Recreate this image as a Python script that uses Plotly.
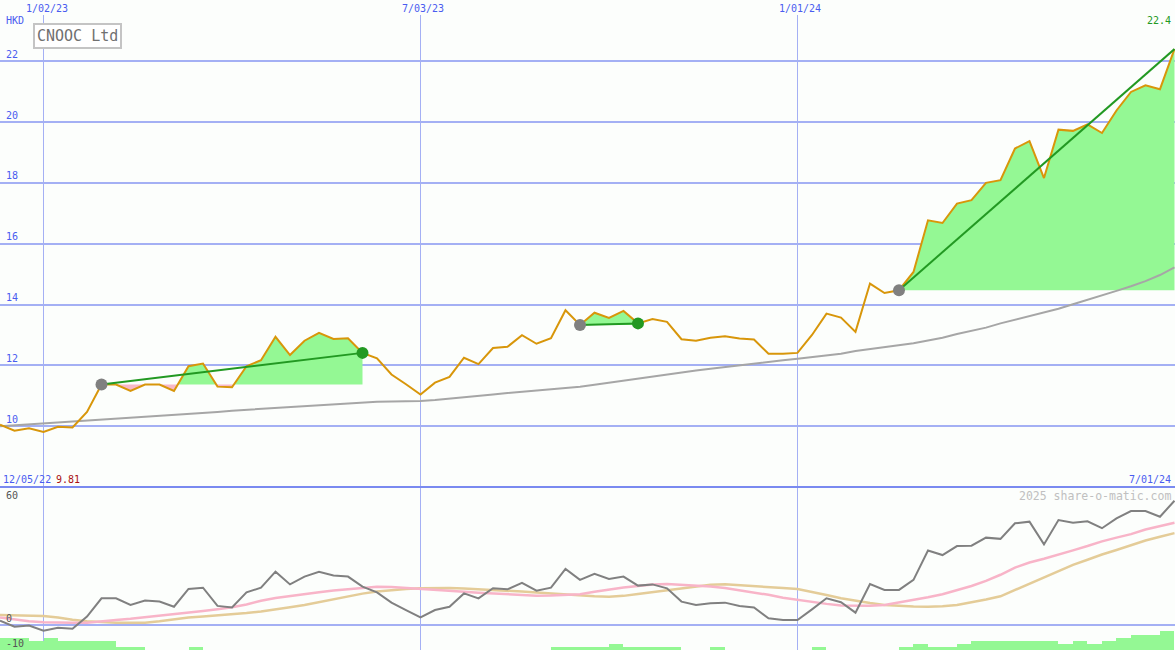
import pandas as pd
import plotly.graph_objects as go

# ---------------- data ----------------
start_date = "2022-12-12"
n_weeks = 82
dates = pd.date_range(start_date, periods=n_weeks, freq="7D")

price = [10.05, 9.85, 9.93, 9.81, 9.98, 9.96, 10.47, 11.37, 11.37, 11.16,
         11.37, 11.37, 11.16, 11.97, 12.06, 11.30, 11.28, 11.97, 12.17, 12.94,
         12.34, 12.81, 13.07, 12.87, 12.89, 12.41, 12.23, 11.70, 11.38, 11.04,
         11.43, 11.62, 12.25, 12.04, 12.57, 12.61, 12.99, 12.71, 12.89, 13.81,
         13.33, 13.73, 13.56, 13.79, 13.38, 13.52, 13.43, 12.86, 12.81, 12.91,
         12.96, 12.88, 12.85, 12.38, 12.38, 12.41, 13.00, 13.70, 13.57, 13.10,
         14.69, 14.38, 14.47, 15.07, 16.77, 16.68, 17.32, 17.43, 18.00, 18.09,
         19.13, 19.37, 18.16, 19.75, 19.71, 19.92, 19.64, 20.38, 20.99, 21.21,
         21.08, 22.40]

moving_avg = [10.00, 10.03, 10.06, 10.10, 10.13, 10.16, 10.19, 10.22, 10.25, 10.28,
              10.32, 10.35, 10.38, 10.41, 10.44, 10.47, 10.51, 10.54, 10.57, 10.60,
              10.63, 10.66, 10.70, 10.73, 10.76, 10.79, 10.80, 10.81, 10.81, 10.83,
              10.86, 10.90, 10.94, 10.99, 11.04, 11.09, 11.13, 11.17, 11.21, 11.25,
              11.30, 11.36, 11.43, 11.50, 11.56, 11.63, 11.70, 11.76, 11.83, 11.89,
              11.95, 12.01, 12.06, 12.12, 12.17, 12.22, 12.27, 12.32, 12.38, 12.47,
              12.53, 12.59, 12.66, 12.73, 12.82, 12.91, 13.03, 13.13, 13.24, 13.38,
              13.50, 13.62, 13.73, 13.86, 14.01, 14.15, 14.30, 14.45, 14.60, 14.77,
              14.97, 15.22]

osc_main = [2.1, -0.8, -0.3, -2.8, -1.3, -1.8, 4.1, 13.0, 13.0, 9.8,
            11.9, 11.4, 8.9, 17.6, 18.2, 9.3, 8.5, 15.9, 18.2, 26.0,
            19.8, 23.6, 26.0, 24.1, 23.6, 18.7, 15.9, 10.9, 7.3, 3.7,
            7.3, 8.9, 15.4, 13.0, 17.9, 17.4, 20.6, 16.7, 18.2, 27.3,
            22.0, 24.9, 22.4, 23.6, 19.2, 19.8, 17.9, 11.4, 9.8, 10.6,
            10.9, 9.3, 8.5, 3.3, 2.4, 2.4, 7.6, 13.0, 11.1, 6.0,
            20.0, 17.1, 17.1, 22.0, 36.3, 34.1, 38.5, 38.7, 42.6, 42.0,
            49.6, 50.4, 39.3, 51.2, 49.9, 50.6, 47.2, 52.0, 55.6, 55.6,
            52.8, 60.6]

osc_fast = [3.7, 2.6, 1.8, 1.3, 1.1, 1.1, 1.1, 1.6, 2.4, 3.0,
            3.7, 4.4, 5.1, 5.9, 6.8, 7.7, 8.6, 10.0, 11.8, 13.2,
            14.2, 15.2, 16.0, 16.8, 17.5, 18.2, 18.6, 18.5, 18.1, 17.6,
            17.2, 16.7, 16.2, 15.7, 15.3, 15.0, 14.6, 14.3, 14.4, 14.6,
            15.0, 16.2, 17.4, 18.3, 19.0, 19.8, 20.0, 19.7, 19.2, 18.8,
            18.0, 17.0, 16.0, 14.7, 13.3, 12.2, 11.2, 10.3, 9.5, 9.3,
            9.4, 9.8, 11.0, 12.2, 13.5, 15.0, 17.0, 19.0, 21.5, 24.5,
            28.0, 30.5, 32.3, 34.5, 36.4, 38.5, 40.8, 42.6, 44.3, 46.6,
            48.3, 49.9]

osc_slow = [4.9, 4.8, 4.6, 4.4, 3.6, 2.5, 1.8, 1.3, 1.1, 1.1,
            1.1, 1.8, 2.8, 3.6, 4.1, 4.6, 5.1, 5.8, 6.6, 7.5,
            8.6, 9.7, 11.1, 12.6, 14.1, 15.3, 16.3, 17.1, 17.6, 17.9,
            18.0, 18.0, 17.8, 17.5, 17.2, 16.8, 16.3, 15.9, 15.4, 15.0,
            14.5, 14.0, 13.8, 14.2, 15.1, 16.0, 17.0, 18.1, 19.0, 19.6,
            19.9, 19.5, 19.0, 18.5, 18.0, 17.5, 16.2, 14.6, 13.0, 11.8,
            10.7, 9.8, 9.3, 9.0, 8.9, 9.1, 9.7, 11.0, 12.4, 14.0,
            17.0, 20.0, 23.0, 26.2, 29.3, 31.8, 34.4, 36.6, 38.8, 41.2,
            43.0, 44.8]

osc_bars = [-6.2, -6.2, -7.8, -6.2, -7.8, -7.8, -7.8, -7.8, -10.6, -10.6,
            None, None, None, -10.6, None, None, None, None, None, None,
            None, None, None, None, None, None, None, None, None, None,
            None, None, None, None, None, None, None, None, -10.6, -10.6,
            -10.6, -10.6, -9.3, -10.6, -10.6, -10.6, -10.6, None, None, -10.6,
            None, None, None, None, None, None, -10.6, None, None, None,
            None, None, -10.6, -9.3, -10.6, -10.6, -9.3, -7.8, -7.8, -7.8,
            -7.8, -7.8, -7.8, -9.3, -7.8, -9.3, -7.8, -6.2, -4.9, -4.9,
            -2.8, None]

trade_entry = [7, 40, 62]
trade_exit = [25, 44, 81]
trade_closed = [True, True, False]

x_tick_dates = ["2023-01-02", "2023-07-03", "2024-01-01"]
x_tick_text = ["1/02/23", "7/03/23", "1/01/24"]
price_ticks = [10, 12, 14, 16, 18, 20, 22]
osc_tick_labels = [60, 0, -10]

title_text = "CNOOC Ltd"
currency = "HKD"
start_label = "12/05/22"
end_label = "7/01/24"
low_label = "9.81"
last_label = "22.4"
credit = "2025 share-o-matic.com"

# ---------------- styling ----------------
W, H = 1175, 650
SEP_PX = 487
TOP_PX = 15
price_range = [8.0, 23.52]
osc_range = [-12.2, 67.3]
osc_label_shift = [6, 6, 2]
BG = "#fcfefc"
GRID = "#a4b0f4"
BLUE_TXT = "#4a5cf0"
FONT = "DejaVu Sans Mono"
GREEN_FILL = "#94f894"
PINK_FILL = "#f8b8c8"
TRADE_GREEN = "#229922"
SMALL = 10

week = pd.Timedelta(days=7)


def idx_to_date(v):
    return dates[0] + week * v


fig = go.Figure()

# trade fills
for a, b in zip(trade_entry, trade_exit):
    base = price[a]
    pts = [(float(a), price[a])]
    for i in range(a, b):
        p0, p1 = price[i], price[i + 1]
        if (p0 - base) * (p1 - base) < 0:
            t = (base - p0) / (p1 - p0)
            pts.append((i + t, base))
        pts.append((float(i + 1), p1))
    xs = [idx_to_date(p[0]) for p in pts]
    up = [max(p[1], base) for p in pts]
    lo = [min(p[1], base) for p in pts]
    for ys, col in ((up, GREEN_FILL), (lo, PINK_FILL)):
        fig.add_trace(go.Scatter(x=xs, y=[base] * len(xs), mode="lines",
                                 line=dict(width=0), hoverinfo="skip",
                                 showlegend=False, xaxis="x", yaxis="y"))
        fig.add_trace(go.Scatter(x=xs, y=ys, mode="lines", line=dict(width=0),
                                 fill="tonexty", fillcolor=col, hoverinfo="skip",
                                 showlegend=False, xaxis="x", yaxis="y"))

# moving average
fig.add_trace(go.Scatter(x=dates, y=moving_avg, mode="lines",
                         line=dict(color="#a6a6a6", width=2), showlegend=False))
# price
fig.add_trace(go.Scatter(x=dates, y=price, mode="lines",
                         line=dict(color="#d8960a", width=2), showlegend=False))

# trade lines & markers
for a, b, closed in zip(trade_entry, trade_exit, trade_closed):
    fig.add_trace(go.Scatter(x=[dates[a], dates[b]], y=[price[a], price[b]],
                             mode="lines", line=dict(color=TRADE_GREEN, width=2),
                             showlegend=False))
    fig.add_trace(go.Scatter(x=[dates[a]], y=[price[a]], mode="markers",
                             marker=dict(color="#808080", size=12, line=dict(width=0)),
                             showlegend=False))
    if closed:
        fig.add_trace(go.Scatter(x=[dates[b]], y=[price[b]], mode="markers",
                                 marker=dict(color=TRADE_GREEN, size=12, line=dict(width=0)),
                                 showlegend=False))

# bottom panel
bar_x = [d + pd.Timedelta(days=3.5) for d in dates]
bar_h = [None if v is None else v - osc_range[0] for v in osc_bars]
fig.add_trace(go.Bar(x=bar_x, y=bar_h, base=osc_range[0], width=7 * 86400000,
                     marker=dict(color=GREEN_FILL, line=dict(width=0)),
                     showlegend=False, xaxis="x2", yaxis="y2"))
fig.add_trace(go.Scatter(x=dates, y=osc_slow, mode="lines",
                         line=dict(color="#e4cc98", width=2.5),
                         showlegend=False, xaxis="x2", yaxis="y2"))
fig.add_trace(go.Scatter(x=dates, y=osc_fast, mode="lines",
                         line=dict(color="#f8b4c8", width=2.5),
                         showlegend=False, xaxis="x2", yaxis="y2"))
fig.add_trace(go.Scatter(x=dates, y=osc_main, mode="lines",
                         line=dict(color="#808080", width=2),
                         showlegend=False, xaxis="x2", yaxis="y2"))

sep = 1 - SEP_PX / H
top = 1 - TOP_PX / H
xr = [dates[0], dates[-1] + pd.Timedelta(hours=6)]

axis_common = dict(showticklabels=False, zeroline=False, showline=False,
                   ticks="", fixedrange=True)
fig.update_layout(
    width=W, height=H, margin=dict(l=0, r=0, t=0, b=0),
    paper_bgcolor=BG, plot_bgcolor=BG, showlegend=False, bargap=0,
    xaxis=dict(domain=[0, 1], range=xr, anchor="y", tickvals=x_tick_dates,
               showgrid=True, gridcolor=GRID, gridwidth=1, **axis_common),
    xaxis2=dict(domain=[0, 1], range=xr, anchor="y2", tickvals=x_tick_dates,
                showgrid=True, gridcolor=GRID, gridwidth=1, **axis_common),
    yaxis=dict(domain=[sep, top], range=price_range, tickvals=price_ticks,
               showgrid=True, gridcolor=GRID, gridwidth=2, **axis_common),
    yaxis2=dict(domain=[0, sep], range=osc_range, tickvals=[0],
                showgrid=True, gridcolor=GRID, gridwidth=2, **axis_common),
)

fig.add_shape(type="line", xref="paper", yref="paper", x0=0, x1=1, y0=sep, y1=sep,
              line=dict(color="#7a8af0", width=2))

ann = []
def txt(text, x, y, xref, yref, color, size=SMALL, xanchor="left", yanchor="middle",
        xshift=0, yshift=0, **kw):
    ann.append(dict(text=text, x=x, y=y, xref=xref, yref=yref, showarrow=False,
                    font=dict(family=FONT, size=size, color=color),
                    xanchor=xanchor, yanchor=yanchor, xshift=xshift, yshift=yshift, **kw))

for d, t in zip(x_tick_dates, x_tick_text):
    txt(t, d, 1 - 8 / H, "x", "paper", BLUE_TXT, xanchor="center", xshift=3)
for v in price_ticks:
    txt(str(v), 0, v, "paper", "y", BLUE_TXT, xshift=4, yshift=7)
txt(currency, 0, 1 - 20 / H, "paper", "paper", BLUE_TXT, xshift=4)
txt(title_text, 78 / W, 1 - 36.5 / H, "paper", "paper", "#707070", size=15,
    xanchor="center", bordercolor="#c4c4c4", borderwidth=2, borderpad=2,
    bgcolor="#ffffff")
txt(last_label, 1, 1 - 20 / H, "paper", "paper", TRADE_GREEN, xanchor="right", xshift=-2)
txt(start_label, 0, 1 - 479 / H, "paper", "paper", BLUE_TXT, xshift=1)
txt(low_label, 0, 1 - 479 / H, "paper", "paper", "#aa1111", xshift=54)
txt(end_label, 1, 1 - 479 / H, "paper", "paper", BLUE_TXT, xanchor="right", xshift=-2)
txt(credit, 1, 1 - 496 / H, "paper", "paper", "#c0c0c0", size=11.5,
    xanchor="right", xshift=-2)
for v, s in zip(osc_tick_labels, osc_label_shift):
    txt(str(v), 0, v, "paper", "y2", "#555555", xshift=4, yshift=s)
fig.update_layout(annotations=ann)

fig.write_html("out.html", config={"displayModeBar": False},
               post_script="document.body.style.margin='0';document.body.style.overflow='hidden';")
